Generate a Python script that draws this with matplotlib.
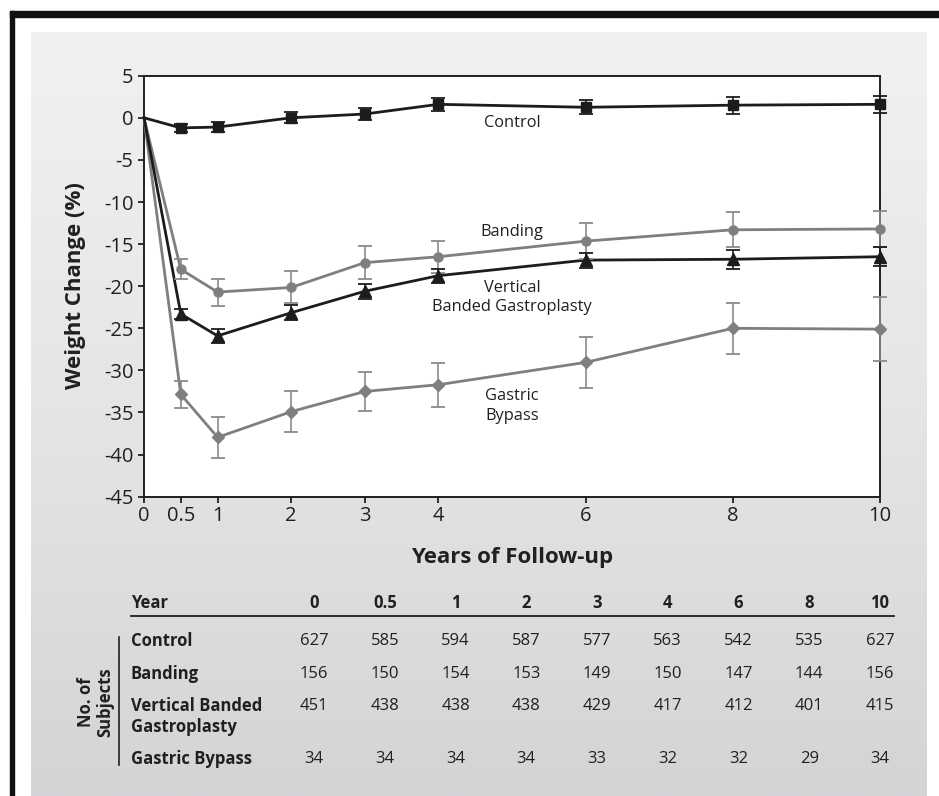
import matplotlib
matplotlib.use('Agg')
import matplotlib.pyplot as plt
import numpy as np
from matplotlib.patches import Rectangle
from matplotlib.lines import Line2D
from matplotlib.colors import LinearSegmentedColormap

plt.rcParams['font.family'] = ['Open Sans', 'DejaVu Sans']
plt.rcParams['axes.unicode_minus'] = False

# ---------------- data ----------------
years = [0, 0.5, 1, 2, 3, 4, 6, 8, 10]
year_labels = ['0', '0.5', '1', '2', '3', '4', '6', '8', '10']
y_ticks = [-45, -40, -35, -30, -25, -20, -15, -10, -5, 0, 5]

control_mean = [0, -1.2, -1.1, 0.0, 0.45, 1.6, 1.25, 1.5, 1.6]
control_err = [0, 0.5, 0.6, 0.65, 0.7, 0.75, 0.85, 1.0, 1.0]
banding_mean = [0, -18.0, -20.7, -20.15, -17.2, -16.5, -14.65, -13.3, -13.2]
banding_err = [0, 1.2, 1.6, 1.9, 1.95, 1.9, 2.1, 2.1, 2.1]
vbg_mean = [0, -23.3, -25.9, -23.15, -20.6, -18.75, -16.9, -16.8, -16.5]
vbg_err = [0, 0.65, 0.8, 0.9, 0.9, 0.85, 0.9, 1.1, 1.1]
gb_mean = [0, -32.85, -37.95, -34.9, -32.5, -31.7, -29.05, -25.0, -25.1]
gb_err = [0, 1.6, 2.45, 2.4, 2.3, 2.6, 3.0, 3.0, 3.8]

series_labels = ['Control', 'Banding', 'Vertical\nBanded Gastroplasty', 'Gastric\nBypass']
label_y = [-0.6, -13.6, -21.35, -34.2]

table_groups = ['Control', 'Banding', 'Vertical Banded\nGastroplasty', 'Gastric Bypass']
n_control = [627, 585, 594, 587, 577, 563, 542, 535, 627]
n_banding = [156, 150, 154, 153, 149, 150, 147, 144, 156]
n_vbg = [451, 438, 438, 438, 429, 417, 412, 401, 415]
n_gb = [34, 34, 34, 34, 33, 32, 32, 29, 34]

# ---------------- layout helpers ----------------
W, H = 939, 796
def fx(x):
    return x / W
def fy(y):
    return 1 - y / H

TXT = '#231f20'

fig = plt.figure(figsize=(W / 100, H / 100), dpi=100)
fig.patch.set_facecolor('white')

# gradient panel
bgax = fig.add_axes([fx(31), 0, fx(927) - fx(31), fy(32)], zorder=0)
cmap = LinearSegmentedColormap.from_list('bg', ['#f0f1f2', '#e4e5e7', '#d3d4d6'])
grad = np.linspace(0, 1, 256).reshape(-1, 1)
bgax.imshow(grad, aspect='auto', cmap=cmap, extent=[0, 1, 0, 1], origin='upper')
bgax.axis('off')

# black frame (top and left)
fig.add_artist(Rectangle((fx(10), fy(17)), 1 - fx(10), fy(11) - fy(17),
                         transform=fig.transFigure, color='#111111', zorder=5))
fig.add_artist(Rectangle((fx(10), 0), fx(14) - fx(10), fy(11),
                         transform=fig.transFigure, color='#111111', zorder=5))

# ---------------- main axes ----------------
ax = fig.add_axes([fx(144), fy(496.7), fx(880) - fx(144), fy(75.7) - fy(496.7)], zorder=2)
ax.set_facecolor('white')

BLACK = '#1c1c1c'
GRAY = '#7f7f7f'
GRAY_E = '#8a8a8a'

def draw(mean, err, color, ecolor, marker, ms):
    ax.plot(years, mean, color=color, lw=2.0, zorder=3, clip_on=False)
    cont = ax.errorbar(years[1:], mean[1:], yerr=err[1:], fmt=marker, color=color,
                       ms=ms, ecolor=ecolor, elinewidth=1.2, capsize=5, capthick=1.3,
                       zorder=4)
    for art in cont.get_children():
        art.set_clip_on(False)

draw(banding_mean, banding_err, GRAY, GRAY_E, 'o', 6.5)
draw(gb_mean, gb_err, GRAY, GRAY_E, 'D', 6)
draw(control_mean, control_err, BLACK, BLACK, 's', 7)
draw(vbg_mean, vbg_err, BLACK, BLACK, '^', 8.5)

for lab, yv in zip(series_labels, label_y):
    ax.text(5, yv, lab, ha='center', va='center', fontsize=11.8, color=TXT,
            linespacing=1.3)

ax.set_xlim(0, 10)
ax.set_ylim(-45, 5)
ax.set_xticks(years)
ax.set_xticklabels(year_labels)
ax.set_yticks(y_ticks)
ax.set_yticklabels([str(v) for v in y_ticks])
ax.tick_params(direction='out', length=4, width=1.3, labelsize=14.5, colors=TXT)
ax.tick_params(axis='y', pad=3.5)
ax.tick_params(axis='x', pad=3)
for sp in ax.spines.values():
    sp.set_linewidth(1.4)
    sp.set_color(TXT)

fig.text(fx(75), fy(286), 'Weight Change (%)', rotation=90, fontweight='bold',
         fontsize=16, ha='center', va='center', color=TXT)
fig.text(fx(512), fy(558), 'Years of Follow-up', fontweight='bold',
         fontsize=16, ha='center', va='center', color=TXT)

# ---------------- table ----------------
col_x = [314 + 70.75 * i for i in range(len(years))]
fig.text(fx(131), fy(603), 'Year', fontweight='bold', fontsize=12, va='center',
         color=TXT)
for cx, lab in zip(col_x, year_labels):
    fig.text(fx(cx), fy(603), lab, fontweight='bold', fontsize=12, ha='center',
             va='center', color=TXT)
fig.add_artist(Line2D([fx(131), fx(894)], [fy(615.7), fy(615.7)], lw=1.3,
                      color=TXT, transform=fig.transFigure))

row_y = [641, 674, 706, 759]
counts = [n_control, n_banding, n_vbg, n_gb]
for ry, grp, vals in zip(row_y, table_groups, counts):
    for k, line in enumerate(grp.split('\n')):
        fig.text(fx(131), fy(ry + 20.7 * k), line, fontweight='bold', fontsize=12,
                 va='center', color=TXT)
    for cx, v in zip(col_x, vals):
        fig.text(fx(cx), fy(ry), str(v), fontsize=12, ha='center', va='center',
                 color=TXT)

fig.add_artist(Line2D([fx(119.3), fx(119.3)], [fy(637), fy(765)], lw=1.2,
                      color=TXT, transform=fig.transFigure))
fig.text(fx(96), fy(702), 'No. of\nSubjects', rotation=90, fontweight='bold',
         fontsize=12, ha='center', va='center', linespacing=1.1, color=TXT)

fig.savefig('out.png', dpi=100)
